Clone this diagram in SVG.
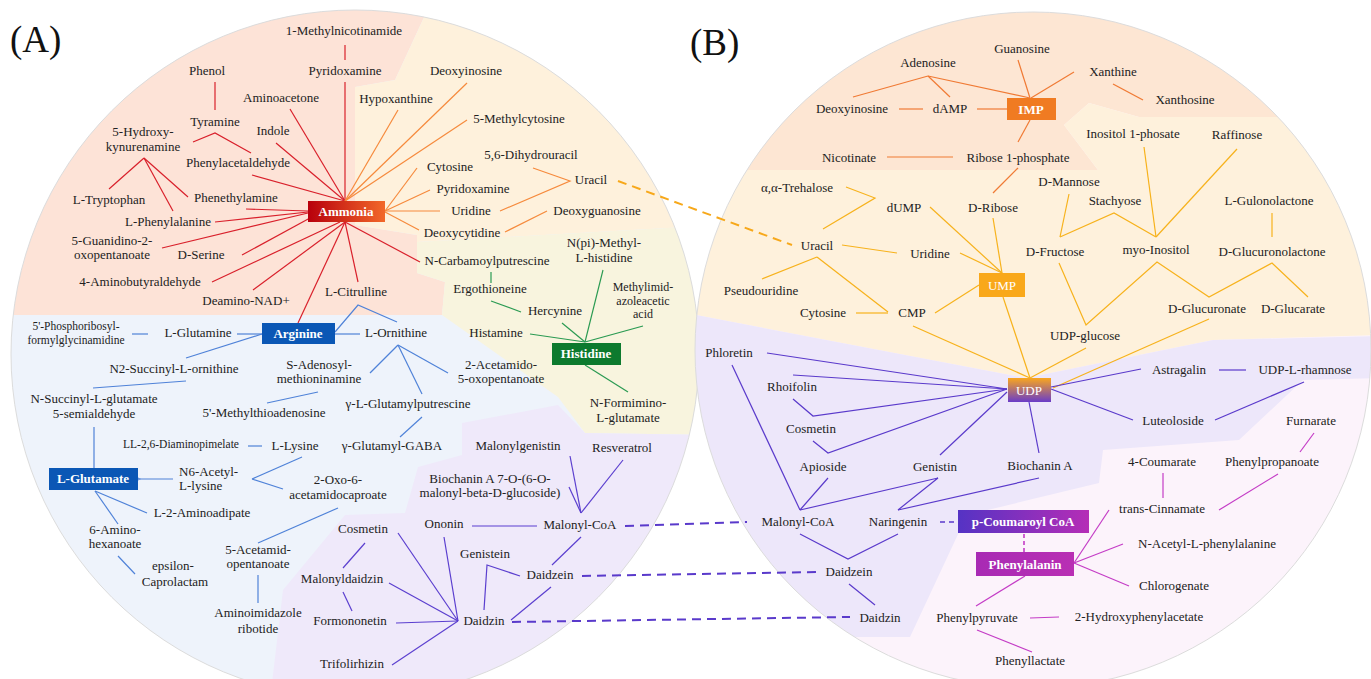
<svg xmlns="http://www.w3.org/2000/svg" width="1371" height="679" viewBox="0 0 1371 679">
<style>
text{font-family:"Liberation Serif","Times New Roman",serif;font-size:13px;fill:#222;text-anchor:middle}
.sm{font-size:11.5px}
.s12{font-size:12px}
.st{text-anchor:start}
.big{font-size:37px;text-anchor:start;fill:#111}
.bx{font-weight:bold;fill:#fff}
.bn{fill:#fff}
line,polyline{fill:none;stroke-width:1.2}
.r{stroke:#d9202b}.o{stroke:#f68a3c}.g{stroke:#2a9a52}.b{stroke:#4f82d8}.p{stroke:#5b3fcf}
.io{stroke:#f07a34}.am{stroke:#f7b21c}.pp{stroke:#5a3acb}.mg{stroke:#c43cc6}
.dp{stroke:#5a3acb;stroke-width:2;stroke-dasharray:9 6}
.da{stroke:#f7a81a;stroke-width:2;stroke-dasharray:9 6}
.dm{stroke:#c43cc6;stroke-width:1.6;stroke-dasharray:4 3}
</style>
<defs>
<clipPath id="cA"><circle cx="355" cy="354" r="344"/></clipPath>
<clipPath id="cB"><circle cx="1033" cy="350" r="338"/></clipPath>
<linearGradient id="gAm" x1="0" y1="0" x2="1" y2="0"><stop offset="0" stop-color="#b8000c"/><stop offset="1" stop-color="#f2682a"/></linearGradient>
<linearGradient id="gUDP" x1="0" y1="0" x2="0" y2="1"><stop offset="0" stop-color="#f9a61e"/><stop offset="1" stop-color="#6a3cc8"/></linearGradient>
<linearGradient id="gPC" x1="0" y1="0" x2="1" y2="0"><stop offset="0" stop-color="#5533c4"/><stop offset="1" stop-color="#b52db6"/></linearGradient>
<linearGradient id="gPh" x1="0" y1="0" x2="1" y2="0"><stop offset="0" stop-color="#a82ab4"/><stop offset="1" stop-color="#b92fb4"/></linearGradient>
<marker id="arr" viewBox="0 0 10 10" refX="1" refY="5" markerWidth="9" markerHeight="9" orient="auto-start-reverse" markerUnits="userSpaceOnUse"><polyline points="9,1 1,5 9,9" fill="none" stroke="#4f82d8" stroke-width="1.3"/></marker>
</defs>

<g id="backgroundA" clip-path="url(#cA)">
<rect x="0" y="0" width="720" height="700" fill="#eef3fb"/>
<polygon fill="#fde3d7" points="0,0 432,0 395,80 355,87 355,225 417,235 417,273 445,282 442,315 0,315"/>
<polygon fill="#fef1dc" points="432,0 720,0 720,225 417,242 417,235 355,225 355,87 395,80"/>
<polygon fill="#f8f4de" points="417,242 720,225 720,435 585,433 558,397 442,315 445,282 417,273"/>
<polygon fill="#efe9fa" points="462,423 558,405 585,433 720,435 720,700 270,700 283,590 345,515 405,513 418,467 462,455"/>
</g>
<circle cx="355" cy="354" r="344" fill="none" stroke="#dcdcdc" stroke-width="1"/>

<g id="backgroundB" clip-path="url(#cB)">
<rect x="680" y="0" width="700" height="700" fill="#fcf3fb"/>
<polygon fill="#fde6d3" points="680,0 1380,0 1380,117 1139,117 1089,103 1064,125 1098,170 680,170"/>
<polygon fill="#fef1dc" points="680,170 1098,170 1064,125 1089,103 1139,117 1380,117 1380,335 1213,340 1026,378 680,312"/>
<polygon fill="#ede7fa" points="680,312 1026,378 1213,340 1380,336 1380,378 1303,380 1239,440 1103,450 1099,483 967,515 910,637 680,637"/>
</g>
<circle cx="1033" cy="350" r="338" fill="none" stroke="#dcdcdc" stroke-width="1"/>

<g id="panel-labels">
<text class="big" x="10" y="52">(A)</text>
<text class="big" x="690" y="55">(B)</text>
</g>

<g id="connectors">
<line class="r" x1="345" y1="45" x2="345" y2="60"/>
<line class="r" x1="345" y1="82" x2="345" y2="201"/>
<line class="r" x1="215" y1="82" x2="215" y2="110"/>
<polyline class="r" points="193,142 215,133 251,153"/>
<line class="r" x1="290" y1="109" x2="345" y2="201"/>
<line class="r" x1="276" y1="143" x2="345" y2="201"/>
<line class="r" x1="252" y1="175" x2="345" y2="201"/>
<line class="r" x1="144" y1="158" x2="109" y2="189"/>
<line class="r" x1="144" y1="158" x2="173" y2="211"/>
<line class="r" x1="144" y1="158" x2="188" y2="197"/>
<line class="r" x1="246" y1="209" x2="308" y2="211"/>
<line class="r" x1="215" y1="222" x2="308" y2="212"/>
<line class="r" x1="162" y1="248" x2="308" y2="213"/>
<line class="r" x1="242" y1="255" x2="310" y2="218"/>
<line class="r" x1="212" y1="282" x2="340" y2="222"/>
<line class="r" x1="253" y1="290" x2="345" y2="222"/>
<line class="r" x1="345" y1="222" x2="298" y2="323"/>
<line class="r" x1="345" y1="222" x2="358" y2="282"/>
<line class="r" x1="345" y1="222" x2="420" y2="262"/>
<line class="o" x1="398" y1="110" x2="345" y2="201"/>
<line class="o" x1="467" y1="83" x2="345" y2="201"/>
<line class="o" x1="467" y1="120" x2="345" y2="201"/>
<line class="o" x1="417" y1="168" x2="385" y2="211"/>
<line class="o" x1="430" y1="190" x2="385" y2="211"/>
<line class="o" x1="440" y1="211" x2="385" y2="211"/>
<line class="o" x1="385" y1="212" x2="419" y2="230"/>
<polyline class="o" points="533,168 570,181 500,211"/>
<line class="o" x1="547" y1="211" x2="505" y2="232"/>
<line class="da" x1="618" y1="181" x2="792" y2="245"/>
<line class="g" x1="491" y1="272" x2="491" y2="283"/>
<line class="g" x1="491" y1="301" x2="521" y2="312"/>
<line class="g" x1="585" y1="342" x2="562" y2="323"/>
<line class="g" x1="585" y1="342" x2="603" y2="270"/>
<line class="g" x1="585" y1="342" x2="643" y2="326"/>
<line class="g" x1="585" y1="342" x2="530" y2="334"/>
<line class="g" x1="585" y1="365" x2="628" y2="392"/>
<line class="b" x1="132" y1="334" x2="148" y2="334"/>
<line class="b" x1="237" y1="334" x2="262" y2="334"/>
<line class="b" x1="262" y1="334" x2="186" y2="358"/>
<line class="b" x1="186" y1="381" x2="93" y2="388"/>
<line class="b" x1="94" y1="427" x2="94" y2="468"/>
<line class="b" x1="335" y1="334" x2="360" y2="334"/>
<polyline class="b" points="335,332 358,305 397,322"/>
<line class="b" x1="398" y1="345" x2="370" y2="373"/>
<line class="b" x1="398" y1="345" x2="422" y2="394"/>
<line class="b" x1="398" y1="345" x2="448" y2="373"/>
<line class="b" x1="422" y1="417" x2="400" y2="437"/>
<line class="b" x1="318" y1="392" x2="267" y2="403"/>
<line class="b" x1="248" y1="446" x2="262" y2="446"/>
<line class="b" x1="302" y1="457" x2="252" y2="479"/>
<line class="b" x1="252" y1="479" x2="283" y2="489"/>
<line class="b" x1="173" y1="479" x2="140" y2="479" marker-end="url(#arr)"/>
<line class="b" x1="95" y1="491" x2="147" y2="513"/>
<line class="b" x1="95" y1="491" x2="118" y2="524"/>
<line class="b" x1="118" y1="556" x2="135" y2="574"/>
<line class="b" x1="338" y1="508" x2="258" y2="543"/>
<line class="b" x1="258" y1="575" x2="258" y2="603"/>
<line class="p" x1="570" y1="456" x2="581" y2="513"/>
<line class="p" x1="569" y1="487" x2="581" y2="513"/>
<line class="p" x1="623" y1="460" x2="581" y2="513"/>
<line class="p" x1="472" y1="526" x2="537" y2="526"/>
<line class="p" x1="581" y1="537" x2="552" y2="565"/>
<polyline class="p" points="520,576 487,565 484,610"/>
<line class="p" x1="551" y1="587" x2="511" y2="620"/>
<line class="p" x1="458" y1="621" x2="444" y2="537"/>
<line class="p" x1="458" y1="621" x2="398" y2="533"/>
<line class="p" x1="458" y1="621" x2="389" y2="583"/>
<line class="p" x1="458" y1="621" x2="396" y2="623"/>
<line class="p" x1="458" y1="621" x2="392" y2="665"/>
<line class="p" x1="365" y1="543" x2="343" y2="568"/>
<line class="p" x1="343" y1="592" x2="352" y2="611"/>
<line class="dp" x1="625" y1="526" x2="747" y2="522"/>
<line class="dp" x1="582" y1="576" x2="817" y2="572"/>
<line class="dp" x1="512" y1="622" x2="850" y2="617"/>
<line class="io" x1="928" y1="76" x2="853" y2="97"/>
<line class="io" x1="928" y1="76" x2="950" y2="97"/>
<line class="io" x1="928" y1="76" x2="1030" y2="98"/>
<line class="io" x1="899" y1="109" x2="923" y2="109"/>
<line class="io" x1="977" y1="109" x2="1007" y2="109"/>
<line class="io" x1="1018" y1="60" x2="1030" y2="98"/>
<line class="io" x1="1074" y1="72" x2="1031" y2="98"/>
<line class="io" x1="1113" y1="84" x2="1143" y2="100"/>
<line class="io" x1="887" y1="157" x2="953" y2="157"/>
<line class="io" x1="1030" y1="120" x2="1018" y2="142"/>
<line class="io" x1="1018" y1="168" x2="993" y2="193"/>
<polyline class="am" points="846,187 875,198 823,229"/>
<line class="am" x1="930" y1="207" x2="1002" y2="273"/>
<line class="am" x1="993" y1="218" x2="1002" y2="273"/>
<line class="am" x1="842" y1="245" x2="897" y2="253"/>
<line class="am" x1="960" y1="253" x2="1002" y2="273"/>
<line class="am" x1="817" y1="257" x2="762" y2="279"/>
<line class="am" x1="817" y1="257" x2="888" y2="312"/>
<line class="am" x1="856" y1="313" x2="888" y2="313"/>
<line class="am" x1="935" y1="313" x2="979" y2="285"/>
<line class="am" x1="913" y1="326" x2="1030" y2="378"/>
<line class="am" x1="1003" y1="297" x2="1030" y2="378"/>
<line class="am" x1="1069" y1="194" x2="1060" y2="237"/>
<polyline class="am" points="1060,237 1114,213 1156,237"/>
<line class="am" x1="1144" y1="147" x2="1156" y2="237"/>
<line class="am" x1="1237" y1="149" x2="1156" y2="237"/>
<line class="am" x1="1272" y1="213" x2="1272" y2="237"/>
<polyline class="am" points="1059,263 1086,325 1157,262 1209,297 1272,263 1308,297"/>
<line class="am" x1="1086" y1="348" x2="1030" y2="378"/>
<line class="am" x1="1209" y1="319" x2="1053" y2="388"/>
<line class="pp" x1="1007" y1="389" x2="767" y2="353"/>
<line class="pp" x1="1007" y1="389" x2="793" y2="375"/>
<polyline class="pp" points="793,399 813,416 1007,389"/>
<polyline class="pp" points="813,441 828,453 1007,389"/>
<line class="pp" x1="1007" y1="392" x2="940" y2="455"/>
<line class="pp" x1="1051" y1="387" x2="1141" y2="369"/>
<line class="pp" x1="1219" y1="370" x2="1246" y2="370"/>
<line class="pp" x1="1051" y1="389" x2="1133" y2="420"/>
<line class="pp" x1="1215" y1="420" x2="1304" y2="382"/>
<line class="pp" x1="1029" y1="402" x2="1039" y2="453"/>
<line class="pp" x1="732" y1="365" x2="800" y2="510"/>
<line class="pp" x1="828" y1="478" x2="800" y2="510"/>
<polyline class="pp" points="800,510 938,478 898,510"/>
<line class="pp" x1="1039" y1="478" x2="898" y2="510"/>
<polyline class="pp" points="800,534 848,559 898,534"/>
<line class="pp" x1="849" y1="584" x2="875" y2="605"/>
<line class="dp" x1="940" y1="522" x2="958" y2="522" style="stroke-width:1.6;stroke-dasharray:5 4"/>
<line class="dm" x1="1024" y1="534" x2="1024" y2="552"/>
<line class="mg" x1="1025" y1="576" x2="976" y2="606"/>
<line class="mg" x1="1030" y1="618" x2="1059" y2="617"/>
<line class="mg" x1="977" y1="630" x2="1032" y2="652"/>
<line class="mg" x1="1074" y1="563" x2="1109" y2="510"/>
<line class="mg" x1="1074" y1="563" x2="1123" y2="544"/>
<line class="mg" x1="1074" y1="563" x2="1129" y2="586"/>
<line class="mg" x1="1163" y1="473" x2="1163" y2="498"/>
<line class="mg" x1="1278" y1="474" x2="1219" y2="510"/>
<line class="mg" x1="1314" y1="433" x2="1300" y2="452"/>
</g>

<g id="a-ammonia"><rect x="308" y="201" width="77" height="21" fill="url(#gAm)"/><text class="bx" x="346" y="216">Ammonia</text></g>
<g id="a-arginine"><rect x="262" y="323" width="73" height="21" fill="#0b57b5"/><text class="bx" x="298" y="338">Arginine</text></g>
<g id="a-histidine"><rect x="552" y="343" width="69" height="22" fill="#0d7a2e"/><text class="bx" x="586" y="358">Histidine</text></g>
<g id="a-lglutamate"><rect x="49" y="468" width="89" height="22" fill="#0b57b5"/><text class="bx" x="93" y="483">L-Glutamate</text></g>
<g id="a-methylnicotinamide"><text x="344" y="35">1-Methylnicotinamide</text></g>
<g id="a-pyridoxamine1"><text x="345" y="75">Pyridoxamine</text></g>
<g id="a-phenol"><text x="207" y="75">Phenol</text></g>
<g id="a-aminoacetone"><text x="281" y="102">Aminoacetone</text></g>
<g id="a-tyramine"><text x="215" y="126">Tyramine</text></g>
<g id="a-indole"><text x="273" y="135">Indole</text></g>
<g id="a-hydroxykynurenamine"><text x="143" y="136">5-Hydroxy-</text><text x="143" y="151">kynurenamine</text></g>
<g id="a-phenylacetaldehyde"><text x="238" y="167">Phenylacetaldehyde</text></g>
<g id="a-tryptophan"><text x="109" y="204">L-Tryptophan</text></g>
<g id="a-phenethylamine"><text x="236" y="202">Phenethylamine</text></g>
<g id="a-phenylalanine"><text x="168" y="226">L-Phenylalanine</text></g>
<g id="a-deoxyinosine"><text x="466" y="75">Deoxyinosine</text></g>
<g id="a-hypoxanthine"><text x="396" y="103">Hypoxanthine</text></g>
<g id="a-methylcytosine"><text x="519" y="123">5-Methylcytosine</text></g>
<g id="a-dihydrouracil"><text x="531" y="159">5,6-Dihydrouracil</text></g>
<g id="a-cytosine"><text x="450" y="171">Cytosine</text></g>
<g id="a-uracil"><text x="591" y="184">Uracil</text></g>
<g id="a-pyridoxamine2"><text x="473" y="193">Pyridoxamine</text></g>
<g id="a-uridine"><text x="471" y="215">Uridine</text></g>
<g id="a-deoxyguanosine"><text x="597" y="215">Deoxyguanosine</text></g>
<g id="a-deoxycytidine"><text x="462" y="237">Deoxycytidine</text></g>
<g id="a-guanidino"><text x="112" y="245">5-Guanidino-2-</text><text x="112" y="259">oxopentanoate</text></g>
<g id="a-dserine"><text x="201" y="259">D-Serine</text></g>
<g id="a-aminobutyraldehyde"><text x="140" y="286">4-Aminobutyraldehyde</text></g>
<g id="a-deaminonad"><text x="246" y="305">Deamino-NAD+</text></g>
<g id="a-citrulline"><text x="356" y="296">L-Citrulline</text></g>
<g id="a-carbamoylputrescine"><text x="487" y="265">N-Carbamoylputrescine</text></g>
<g id="a-ergothioneine"><text x="490" y="293">Ergothioneine</text></g>
<g id="a-npimethylhistidine"><text x="604" y="247">N(pi)-Methyl-</text><text x="604" y="262">L-histidine</text></g>
<g id="a-methylimidazoleacetic"><text class="s12" x="643" y="291">Methylimid-</text><text class="s12" x="643" y="304.5">azoleacetic</text><text class="s12" x="643" y="318">acid</text></g>
<g id="a-hercynine"><text x="555" y="315">Hercynine</text></g>
<g id="a-histamine"><text x="496" y="337">Histamine</text></g>
<g id="a-formiminoglutamate"><text x="628" y="407">N-Formimino-</text><text x="628" y="422">L-glutamate</text></g>
<g id="a-phosphoribosyl"><text class="sm" x="76" y="330">5'-Phosphoribosyl-</text><text class="sm" x="76" y="343.5">formylglycinamidine</text></g>
<g id="a-glutamine"><text x="198" y="337">L-Glutamine</text></g>
<g id="a-ornithine"><text x="396" y="337">L-Ornithine</text></g>
<g id="a-n2succinylornithine"><text x="174" y="373">N2-Succinyl-L-ornithine</text></g>
<g id="a-adenosylmethioninamine"><text x="319" y="369">S-Adenosyl-</text><text x="319" y="383">methioninamine</text></g>
<g id="a-acetamidooxopentanoate"><text x="501" y="369">2-Acetamido-</text><text x="501" y="383">5-oxopentanoate</text></g>
<g id="a-succinylglutamate"><text x="94" y="403">N-Succinyl-L-glutamate</text><text x="94" y="418">5-semialdehyde</text></g>
<g id="a-methylthioadenosine"><text x="264" y="417">5'-Methylthioadenosine</text></g>
<g id="a-glutamylputrescine"><text x="408" y="408">γ-L-Glutamylputrescine</text></g>
<g id="a-diaminopimelate"><text class="sm" x="181" y="448">LL-2,6-Diaminopimelate</text></g>
<g id="a-lysine"><text x="295" y="450">L-Lysine</text></g>
<g id="a-glutamylgaba"><text x="392" y="450">γ-Glutamyl-GABA</text></g>
<g id="a-malonylgenistin"><text x="518" y="450">Malonylgenistin</text></g>
<g id="a-resveratrol"><text x="622" y="452">Resveratrol</text></g>
<g id="a-acetyllysine"><text class="st" x="179" y="475.5">N6-Acetyl-</text><text class="st" x="179" y="490">L-lysine</text></g>
<g id="a-oxoacetamidocaproate"><text x="338" y="484">2-Oxo-6-</text><text x="338" y="499">acetamidocaproate</text></g>
<g id="a-biochaninmalonyl"><text x="490" y="483">Biochanin A 7-O-(6-O-</text><text x="490" y="497">malonyl-beta-D-glucoside)</text></g>
<g id="a-aminoadipate"><text x="202" y="517">L-2-Aminoadipate</text></g>
<g id="a-ononin"><text x="444" y="528">Ononin</text></g>
<g id="a-malonylcoa"><text x="580" y="529">Malonyl-CoA</text></g>
<g id="a-cosmetin"><text x="363" y="533">Cosmetin</text></g>
<g id="a-aminohexanoate"><text x="115" y="534">6-Amino-</text><text x="115" y="548">hexanoate</text></g>
<g id="a-acetamidopentanoate"><text x="258" y="554">5-Acetamid-</text><text x="258" y="568">opentanoate</text></g>
<g id="a-genistein"><text x="485" y="558">Genistein</text></g>
<g id="a-caprolactam"><text x="173" y="570">epsilon-</text><text x="175" y="586">Caprolactam</text></g>
<g id="a-daidzein"><text x="550" y="579">Daidzein</text></g>
<g id="a-malonyldaidzin"><text x="342" y="583">Malonyldaidzin</text></g>
<g id="a-aminoimidazole"><text x="258" y="617">Aminoimidazole</text><text x="258" y="633">ribotide</text></g>
<g id="a-daidzin"><text x="484" y="625">Daidzin</text></g>
<g id="a-formononetin"><text x="350" y="625">Formononetin</text></g>
<g id="a-trifolirhizin"><text x="352" y="668">Trifolirhizin</text></g>

<g id="b-imp"><rect x="1007" y="98" width="49" height="22" fill="#f07b22"/><text class="bx" x="1031" y="114">IMP</text></g>
<g id="b-ump"><rect x="979" y="273" width="46" height="24" fill="#f9a81a"/><text class="bn" x="1002" y="290">UMP</text></g>
<g id="b-udp"><rect x="1008" y="378" width="43" height="24" fill="url(#gUDP)"/><text class="bn" x="1029" y="395">UDP</text></g>
<g id="b-pcoumaroyl"><rect x="958" y="510" width="131" height="23" fill="url(#gPC)"/><text class="bx" x="1023" y="526">p-Coumaroyl CoA</text></g>
<g id="b-phenylalanin"><rect x="976" y="552" width="98" height="24" fill="url(#gPh)"/><text class="bx" x="1025" y="569">Phenylalanin</text></g>
<g id="b-guanosine"><text x="1022" y="53">Guanosine</text></g>
<g id="b-adenosine"><text x="928" y="67">Adenosine</text></g>
<g id="b-xanthine"><text x="1113" y="76">Xanthine</text></g>
<g id="b-xanthosine"><text x="1185" y="104">Xanthosine</text></g>
<g id="b-deoxyinosine"><text x="852" y="113">Deoxyinosine</text></g>
<g id="b-damp"><text x="950" y="113">dAMP</text></g>
<g id="b-inositolphosate"><text x="1133" y="138">Inositol 1-phosate</text></g>
<g id="b-raffinose"><text x="1237" y="139">Raffinose</text></g>
<g id="b-nicotinate"><text x="849" y="162">Nicotinate</text></g>
<g id="b-ribosephosphate"><text x="1018" y="162">Ribose 1-phosphate</text></g>
<g id="b-dmannose"><text x="1069" y="186">D-Mannose</text></g>
<g id="b-trehalose"><text x="797" y="192">α,α-Trehalose</text></g>
<g id="b-stachyose"><text x="1115" y="205">Stachyose</text></g>
<g id="b-gulonolactone"><text x="1269" y="205">L-Gulonolactone</text></g>
<g id="b-dump"><text x="904" y="212">dUMP</text></g>
<g id="b-dribose"><text x="993" y="212">D-Ribose</text></g>
<g id="b-uracil"><text x="817" y="250">Uracil</text></g>
<g id="b-dfructose"><text x="1055" y="256">D-Fructose</text></g>
<g id="b-myoinositol"><text x="1156" y="254">myo-Inositol</text></g>
<g id="b-glucuronolactone"><text x="1272" y="256">D-Glucuronolactone</text></g>
<g id="b-uridine"><text x="930" y="258">Uridine</text></g>
<g id="b-pseudouridine"><text x="761" y="295">Pseudouridine</text></g>
<g id="b-glucuronate"><text x="1207" y="313">D-Glucuronate</text></g>
<g id="b-glucarate"><text x="1293" y="313">D-Glucarate</text></g>
<g id="b-cytosine"><text x="823" y="317">Cytosine</text></g>
<g id="b-cmp"><text x="912" y="317">CMP</text></g>
<g id="b-udpglucose"><text x="1085" y="340">UDP-glucose</text></g>
<g id="b-phloretin"><text x="729" y="357">Phloretin</text></g>
<g id="b-astragalin"><text x="1179" y="374">Astragalin</text></g>
<g id="b-udprhamnose"><text x="1305" y="374">UDP-L-rhamnose</text></g>
<g id="b-rhoifolin"><text x="792" y="391">Rhoifolin</text></g>
<g id="b-luteoloside"><text x="1173" y="425">Luteoloside</text></g>
<g id="b-furnarate"><text x="1311" y="425">Furnarate</text></g>
<g id="b-cosmetin"><text x="811" y="433">Cosmetin</text></g>
<g id="b-apioside"><text x="823" y="471">Apioside</text></g>
<g id="b-genistin"><text x="935" y="471">Genistin</text></g>
<g id="b-biochanina"><text x="1040" y="470">Biochanin A</text></g>
<g id="b-coumarate"><text x="1162" y="466">4-Coumarate</text></g>
<g id="b-phenylpropanoate"><text x="1272" y="466">Phenylpropanoate</text></g>
<g id="b-cinnamate"><text x="1162" y="513">trans-Cinnamate</text></g>
<g id="b-malonylcoa"><text x="798" y="526">Malonyl-CoA</text></g>
<g id="b-naringenin"><text x="898" y="526">Naringenin</text></g>
<g id="b-acetylphenylalanine"><text x="1207" y="548">N-Acetyl-L-phenylalanine</text></g>
<g id="b-daidzein"><text x="849" y="576">Daidzein</text></g>
<g id="b-chlorogenate"><text x="1174" y="590">Chlorogenate</text></g>
<g id="b-daidzin"><text x="880" y="622">Daidzin</text></g>
<g id="b-phenylpyruvate"><text x="977" y="622">Phenylpyruvate</text></g>
<g id="b-hydroxyphenylacetate"><text x="1139" y="621">2-Hydroxyphenylacetate</text></g>
<g id="b-phenyllactate"><text x="1030" y="665">Phenyllactate</text></g>
</svg>
